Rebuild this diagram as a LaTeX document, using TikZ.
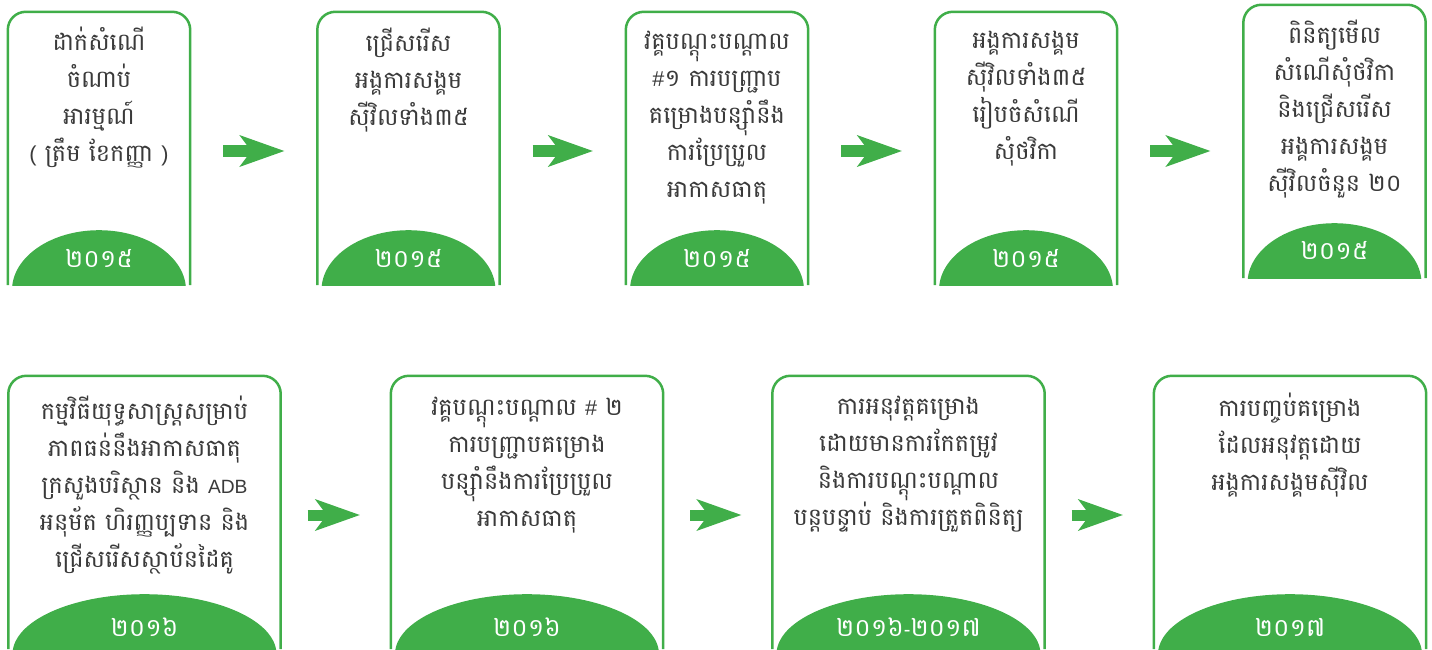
\documentclass[tikz,border=0pt]{standalone}
\usepackage{fontspec}
\setmainfont[Script=Khmer]{Battambang}
\newfontfamily\latinfont[Scale=0.8]{Liberation Sans}
\newfontfamily\signfont[Scale=0.9]{Liberation Sans}
\usetikzlibrary{arrows.meta}
\definecolor{kgreen}{RGB}{64,174,73}
\definecolor{kgray}{RGB}{58,58,58}
\begin{document}
\begin{tikzpicture}[x=1pt,y=-1pt,
    stage/.style={minimum width=182pt,minimum height=273pt,inner sep=0pt},
    widestage/.style={stage,minimum width=272pt},
    desc/.style={align=center,text=kgray,font=\fontsize{24}{37}\selectfont},
    year/.style={text=white,font=\fontsize{25}{26}\selectfont},
    frame/.style={draw=kgreen,line width=2.5pt,rounded corners=18pt},
    flow/.style={draw=kgreen,line width=11pt,
      -{Stealth[length=45pt,width=32pt,inset=12pt,line width=0pt]}}]
  \useasboundingbox (0,0) rectangle (1432,650);
  % top row
  \node[stage] (b1) at (99,148.5) {};
  \node[stage] (b2) at (408.5,148.5) {};
  \node[stage] (b3) at (717,148.5) {};
  \node[stage] (b4) at (1026,148.5) {};
  \node[stage] (b5) at (1334.5,141.5) {};
  % bottom row
  \node[widestage] (b6) at (144.5,512.5) {};
  \node[widestage] (b7) at (527,512.5) {};
  \node[widestage] (b8) at (908.5,512.5) {};
  \node[widestage] (b9) at (1290,512.5) {};
  \foreach \b/\r in {b1/87,b2/87,b3/87,b4/87,b5/87,b6/132,b7/132,b8/132,b9/132} {
    \begin{scope}
      \clip (\b.south west) rectangle (\b.north east);
      \fill[kgreen] ([yshift=-5pt]\b.south) ellipse [x radius=\r pt, y radius=60pt];
    \end{scope}
    \draw[frame] (\b.south west) -- (\b.north west) -- (\b.north east) -- (\b.south east);
  }
  \node[desc] (t1) at (99,98) {ដាក់សំណើ\\ចំណាប់\\អារម្មណ៍\\{\signfont(} ត្រឹម ខែកញ្ញា {\signfont)}};
  \node[desc] (t2) at (408.5,80) {ជ្រើសរើស\\អង្គការសង្គម\\ស៊ីវិលទាំង៣៥};
  \node[desc] (t3) at (717,117.5) {វគ្គបណ្តុះបណ្តាល\\{\signfont\#}១ ការបញ្ជ្រាប\\គម្រោងបន្សុាំនឹង\\ការប្រែប្រួល\\អាកាសធាតុ};
  \node[desc] (t4) at (1026,99) {អង្គការសង្គម\\ស៊ីវិលទាំង៣៥\\រៀបចំសំណើ\\សុំថវិកា};
  \node[desc] (t5) at (1334.5,109) {ពិនិត្យមើល\\សំណើសុំថវិកា\\និងជ្រើសរើស\\អង្គការសង្គម\\ស៊ីវិលចំនួន ២០};
  \node[desc] (t6) at (144.5,485) {កម្មវិធីយុទ្ធសាស្ត្រសម្រាប់\\ភាពធន់នឹងអាកាសធាតុ\\ក្រសួងបរិស្ថាន និង {\latinfont ADB}\\អនុម័ត ហិរញ្ញប្បទាន និង\\ជ្រើសរើសស្ថាប័នដៃគូ};
  \node[desc] (t7) at (527,465) {វគ្គបណ្តុះបណ្តាល {\signfont\#} ២\\ការបញ្ជ្រាបគម្រោង\\បន្សុាំនឹងការប្រែប្រួល\\អាកាសធាតុ};
  \node[desc] (t8) at (908.5,464) {ការអនុវត្តគម្រោង\\ដោយមានការកែតម្រូវ\\និងការបណ្តុះបណ្តាល\\បន្តបន្ទាប់ និងការត្រួតពិនិត្យ};
  \node[desc] (t9) at (1290,445.5) {ការបញ្ចប់គម្រោង\\ដែលអនុវត្តដោយ\\អង្គការសង្គមស៊ីវិល};
  % years
  \node[year] (y1) at (99,258) {២០១៥};
  \node[year] (y2) at (408.5,258) {២០១៥};
  \node[year] (y3) at (717,258) {២០១៥};
  \node[year] (y4) at (1026,258) {២០១៥};
  \node[year] (y5) at (1334.5,250) {២០១៥};
  \node[year] (y6) at (144.5,627) {២០១៦};
  \node[year] (y7) at (527,627) {២០១៦};
  \node[year] (y8) at (908.5,627) {២០១៦{\latinfont-}២០១៧};
  \node[year] (y9) at (1290,627) {២០១៧};
  % arrows
  \draw[flow] ([xshift=33pt,yshift=-2.5pt]b1.east) -- ([xshift=-33pt,yshift=-2.5pt]b2.west);
  \draw[flow] ([xshift=33pt,yshift=-2.5pt]b2.east) -- ([xshift=-33pt,yshift=-2.5pt]b3.west);
  \draw[flow] ([xshift=33pt,yshift=-2.5pt]b3.east) -- ([xshift=-33pt,yshift=-2.5pt]b4.west);
  \coordinate (m4) at ([yshift=-2.5pt]b4.east);
  \draw[flow] ([xshift=33pt]m4) -- ([xshift=-33pt]b5.west |- m4);
  \draw[flow] ([xshift=27pt,yshift=-2.5pt]b6.east) -- ([xshift=-31pt,yshift=-2.5pt]b7.west);
  \draw[flow] ([xshift=27pt,yshift=-2.5pt]b7.east) -- ([xshift=-31pt,yshift=-2.5pt]b8.west);
  \draw[flow] ([xshift=27pt,yshift=-2.5pt]b8.east) -- ([xshift=-31pt,yshift=-2.5pt]b9.west);
\end{tikzpicture}
\end{document}
